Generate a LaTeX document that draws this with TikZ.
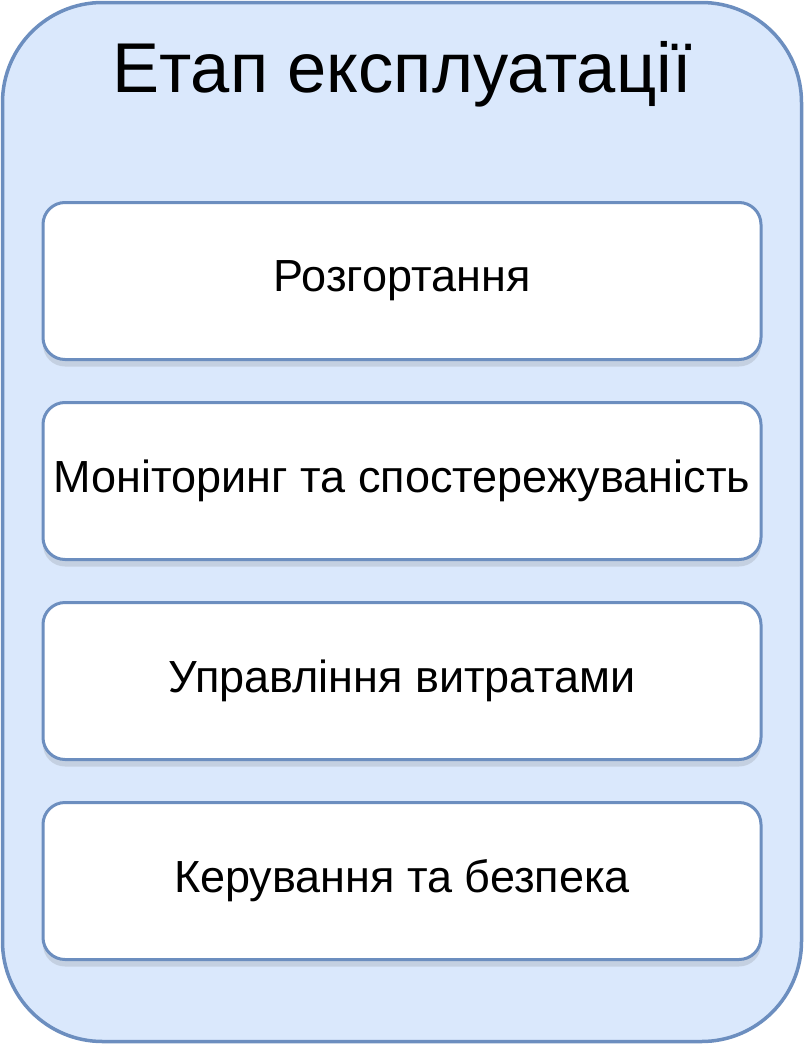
\documentclass[tikz,border=0pt]{standalone}
\usepackage{fontspec}
\setmainfont{Liberation Sans}
\usetikzlibrary{shadows}
\definecolor{outerfill}{HTML}{DAE8FC}
\definecolor{outerline}{HTML}{6C8EBF}
\begin{document}
\begin{tikzpicture}[x=1pt,y=-1pt,
  stagebox/.style={draw=outerline, line width=3pt, fill=white, rounded corners=22pt,
    minimum width=718pt, minimum height=157pt, inner sep=0pt,
    font=\fontsize{45}{50}\selectfont,
    drop shadow={shadow xshift=0pt, shadow yshift=-7pt, opacity=0.15, fill=black!70}},
  titletext/.style={font=\fontsize{70.5}{80}\selectfont, inner sep=0pt}]
\useasboundingbox (0,0) rectangle (804,1044);
\draw[fill=outerfill, draw=outerline, line width=3.5pt, rounded corners=100pt] (2.5,2.5) rectangle (801.5,1041.5);
\node[titletext, anchor=base] (title) at (402,92) {Етап експлуатації};
\node[stagebox] (s1) at (402,281) {Розгортання};
\node[stagebox] (s2) at (402,481) {Моніторинг та спостережуваність};
\node[stagebox] (s3) at (402,681) {Управління витратами};
\node[stagebox] (s4) at (402,881) {Керування та безпека};
\end{tikzpicture}
\end{document}
